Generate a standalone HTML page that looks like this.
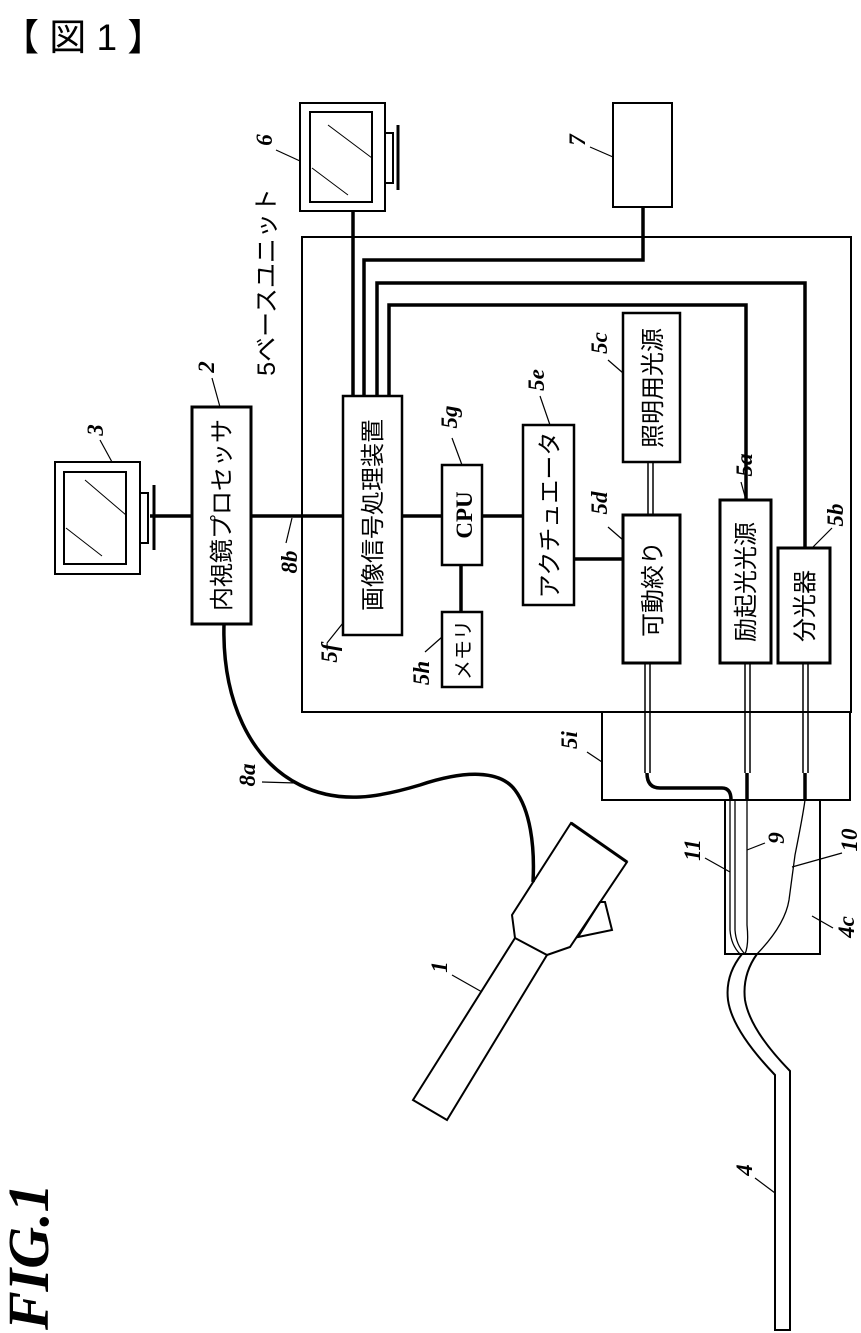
<!DOCTYPE html>
<html><head><meta charset="utf-8"><style>
html,body{margin:0;padding:0;background:#fff;}
svg{display:block;}
.j{font-family:"Liberation Sans","Noto Sans CJK JP",sans-serif;fill:#000;}
.n{font-family:"Liberation Serif",serif;font-style:italic;font-weight:bold;font-size:23px;fill:#000;}
</style></head><body>
<svg width="861" height="1333" viewBox="0 0 861 1333" xmlns="http://www.w3.org/2000/svg">
<g fill="none" stroke="#000" stroke-width="2">
<text x="2" y="50" class="j" font-size="37" stroke="none">【 図 1 】</text>

<!-- monitor 6 -->
<rect x="300" y="103" width="85" height="108"/>
<rect x="310" y="112" width="62" height="90"/>
<path d="M328 125 L372 158 M312 168 L348 195" stroke-width="1"/>
<rect x="385" y="133" width="8" height="50"/>
<line x1="398" y1="125" x2="398" y2="190" stroke-width="3"/>
<!-- box 7 -->
<rect x="613" y="103" width="59" height="104"/>

<!-- base unit -->
<rect x="302" y="237" width="549" height="475"/>
<!-- 5i -->
<rect x="602" y="712" width="248" height="88"/>
<!-- 4c -->
<rect x="725" y="800" width="95" height="154"/>

<!-- wires from 5f -->
<g stroke-width="3.5">
<path d="M353 210 V396"/>
<path d="M364 396 V260 H643 V207"/>
<path d="M377 396 V283 H805 V548"/>
<path d="M389 396 V305 H746 V500"/>
<path d="M150 516 H192 M251 516 H343 M402 516 H442 M482 516 H523"/>
<path d="M461 565 V612"/>
<path d="M574 559 H623"/>
</g>

<!-- boxes -->
<rect x="192" y="407" width="59" height="217" stroke-width="3"/>
<rect x="343" y="396" width="59" height="239" stroke-width="2.5"/>
<rect x="442" y="465" width="40" height="100" stroke-width="2.5"/>
<rect x="442" y="612" width="40" height="75" stroke-width="2.5"/>
<rect x="523" y="425" width="51" height="180" stroke-width="2.5"/>
<rect x="623" y="313" width="57" height="149" stroke-width="2.5"/>
<rect x="623" y="515" width="57" height="148" stroke-width="3"/>
<rect x="720" y="500" width="51" height="163" stroke-width="3"/>
<rect x="778" y="548" width="52" height="115" stroke-width="3"/>
<path d="M648 462 V515 M653 462 V515" stroke-width="1.5"/>

<!-- monitor 3 -->
<rect x="55" y="462" width="85" height="112"/>
<rect x="64" y="472" width="62" height="92"/>
<path d="M85 480 L126 515 M66 528 L102 556" stroke-width="1"/>
<rect x="140" y="493" width="8" height="50"/>
<line x1="154" y1="485" x2="154" y2="550" stroke-width="3"/>

<!-- fibers -->
<path d="M645 663 V773 M650 663 V773" stroke-width="1.5"/>
<path d="M647 773 Q647 788 660 788 H722 Q731 788 731 800" stroke-width="3.5"/>
<path d="M730 800 V930 Q731 945 740 954 M735 800 V930 Q736 945 745 954" stroke-width="1.3"/>
<path d="M745 663 V773 M750 663 V773" stroke-width="1.5"/>
<path d="M747 773 V800" stroke-width="3.5"/>
<path d="M747 800 V925 Q749 945 745 954" stroke-width="1.3"/>
<path d="M803 663 V773 M808 663 V773" stroke-width="1.5"/>
<path d="M805 773 V800" stroke-width="3.5"/>
<path d="M805 800 Q803 815 795 855 L789 900 Q785 925 757 954" stroke-width="1.3"/>

<!-- tube 4 -->
<path d="M742 954 Q725 975 728 1000 Q732 1030 775 1075 V1330 H790 V1071 Q750 1030 745 1000 Q742 975 757 954" stroke-width="2"/>

<!-- endoscope 1 -->
<path d="M515 938 L413 1100 L447 1120 L547 955" stroke-width="2"/>
<path d="M512 915 L571 823 L627 862 L570 947 L547 955 L515 938 Z" stroke-width="2"/>
<path d="M571 823 L627 862" stroke-width="3"/>
<path d="M578 937 L600 902 L605 902 L612 930 Z" stroke-width="2"/>

<!-- cable 8a -->
<path d="M224 624 C222 700 250 760 300 785 C340 805 380 797 420 785 C465 770 500 770 515 790 C530 810 535 845 533 882" stroke-width="3.5"/>
</g>

<!-- box texts -->
<g class="j" font-size="24">
<text transform="translate(230 515) rotate(-90)" text-anchor="middle">内視鏡プロセッサ</text>
<text transform="translate(381 515) rotate(-90)" text-anchor="middle">画像信号処理装置</text>
<text transform="translate(558 515) rotate(-90)" text-anchor="middle">アクチュエータ</text>
<text transform="translate(661 388) rotate(-90)" text-anchor="middle">照明用光源</text>
<text transform="translate(661 589) rotate(-90)" text-anchor="middle">可動絞り</text>
<text transform="translate(754 582) rotate(-90)" text-anchor="middle">励起光光源</text>
<text transform="translate(813 606) rotate(-90)" text-anchor="middle">分光器</text>
<text transform="translate(470 650) rotate(-90)" text-anchor="middle" font-size="20">メモリ</text>
<text transform="translate(275 282) rotate(-90)" text-anchor="middle" font-size="25">5ベースユニット</text>
</g>
<text transform="translate(472 515) rotate(-90)" text-anchor="middle" font-family="Liberation Serif,serif" font-weight="bold" font-size="23">CPU</text>
<text transform="translate(48 1330) rotate(-90)" font-family="Liberation Serif,serif" font-style="italic" font-weight="bold" font-size="58">FIG.1</text>

<!-- reference numbers -->
<g class="n" text-anchor="middle">
<text transform="translate(272 140) rotate(-90)">6</text>
<text transform="translate(585 140) rotate(-90)">7</text>
<text transform="translate(214 367) rotate(-90)">2</text>
<text transform="translate(103 430) rotate(-90)">3</text>
<text transform="translate(457 417) rotate(-90)">5g</text>
<text transform="translate(544 380) rotate(-90)">5e</text>
<text transform="translate(607 343) rotate(-90)">5c</text>
<text transform="translate(607 503) rotate(-90)">5d</text>
<text transform="translate(752 465) rotate(-90)">5a</text>
<text transform="translate(843 515) rotate(-90)">5b</text>
<text transform="translate(297 562) rotate(-90)">8b</text>
<text transform="translate(337 653) rotate(-90)">5f</text>
<text transform="translate(429 673) rotate(-90)">5h</text>
<text transform="translate(577 740) rotate(-90)">5i</text>
<text transform="translate(255 775) rotate(-90)">8a</text>
<text transform="translate(700 850) rotate(-90)">11</text>
<text transform="translate(784 838) rotate(-90)">9</text>
<text transform="translate(857 840) rotate(-90)">10</text>
<text transform="translate(854 927) rotate(-90)">4c</text>
<text transform="translate(447 967) rotate(-90)">1</text>
<text transform="translate(752 1170) rotate(-90)">4</text>
</g>
<g stroke="#000" stroke-width="1.2">
<line x1="276" y1="150" x2="300" y2="161"/>
<line x1="590" y1="147" x2="613" y2="157"/>
<line x1="212" y1="378" x2="220" y2="407"/>
<line x1="100" y1="440" x2="112" y2="462"/>
<line x1="452" y1="438" x2="462" y2="465"/>
<line x1="540" y1="396" x2="550" y2="425"/>
<line x1="608" y1="360" x2="623" y2="373"/>
<line x1="608" y1="527" x2="623" y2="540"/>
<line x1="741" y1="482" x2="746" y2="500"/>
<line x1="832" y1="528" x2="812" y2="548"/>
<line x1="286" y1="543" x2="292" y2="518"/>
<line x1="327" y1="643" x2="343" y2="623"/>
<line x1="425" y1="652" x2="442" y2="637"/>
<line x1="587" y1="752" x2="602" y2="762"/>
<line x1="262" y1="782" x2="296" y2="783"/>
<line x1="705" y1="858" x2="730" y2="872"/>
<line x1="765" y1="843" x2="747" y2="850"/>
<line x1="842" y1="853" x2="792" y2="867"/>
<line x1="812" y1="916" x2="833" y2="928"/>
<line x1="452" y1="975" x2="482" y2="992"/>
<line x1="755" y1="1178" x2="775" y2="1193"/>
</g>
</svg>
</body></html>
